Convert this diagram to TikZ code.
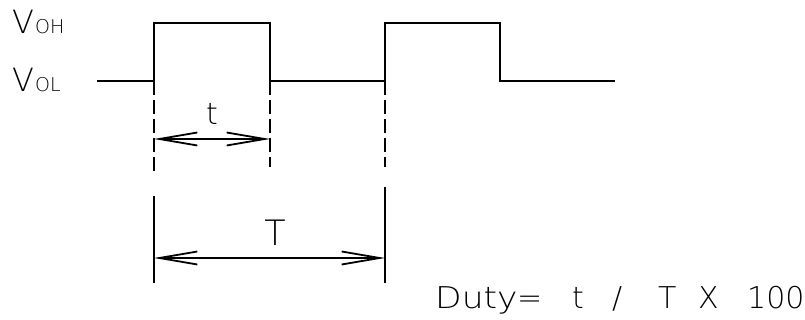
\documentclass[tikz,border=0pt]{standalone}
\usepackage{fontspec}
\setmainfont{DejaVu Sans ExtraLight}
\newfontfamily\widefont[FakeStretch=1.15]{DejaVu Sans ExtraLight}
\usetikzlibrary{arrows.meta}
\tikzset{
  wave/.style={line width=2.6pt, line join=miter},
  dashline/.style={line width=1.8pt, dash pattern=on 14pt off 5pt},
  extline/.style={line width=1.8pt},
  dimarrow/.style={line width=1.8pt, {Straight Barb[length=38pt,width=13pt]}-{Straight Barb[length=38pt,width=13pt]}},
  lbl/.style={inner sep=0pt, font=\fontsize{30}{30}\selectfont},
}
\newcommand{\subsz}{\fontsize{19}{19}\selectfont}
\begin{document}
\begin{tikzpicture}[x=1pt,y=-1pt]
\useasboundingbox (0,0) rectangle (805,320);
% waveform corners
\coordinate (s0) at (97,81);
\coordinate (r1b) at (154,81);
\coordinate (r1t) at (154,23);
\coordinate (f1t) at (270,23);
\coordinate (f1b) at (270,81);
\coordinate (r2b) at (385,81);
\coordinate (r2t) at (385,23);
\coordinate (f2t) at (500,23);
\coordinate (f2b) at (500,81);
\coordinate (e0) at (615,81);
\draw[wave] (s0) -- (r1b) -- (r1t) -- (f1t) -- (f1b) -- (r2b) -- (r2t) -- (f2t) -- (f2b) -- (e0);
% projection lines
\coordinate (d1) at (154,175);
\coordinate (d2) at (270,167);
\coordinate (d3) at (385,167);
\draw[dashline] (r1b) -- (d1);
\draw[dashline] (f1b) -- (d2);
\draw[dashline] (r2b) -- (d3);
\coordinate (x1a) at (154,196);
\coordinate (x1b) at (154,283);
\coordinate (x3a) at (385,187);
\coordinate (x3b) at (385,283);
\draw[extline] (x1a) -- (x1b);
\draw[extline] (x3a) -- (x3b);
% dimension arrows
\coordinate (ta) at (154,139);
\coordinate (tb) at (270,139);
\draw[dimarrow] (ta) -- (tb);
\coordinate (Ta) at (154,258);
\coordinate (Tb) at (385,258);
\draw[dimarrow] (Ta) -- (Tb);
% labels
\node[lbl, anchor=base west, font=\fontsize{32}{32}\selectfont] (voh) at (12,34) {V\hspace{1pt}{\subsz OH}};
\node[lbl, anchor=base west, font=\fontsize{32}{32}\selectfont] (vol) at (12,92) {V\hspace{1pt}{\subsz OL}};
\node[lbl, anchor=base] (tl) at (212,125) {t};
\node[lbl, anchor=base, font=\fontsize{35}{35}\selectfont] (Tl) at (275,245) {T};
\node[lbl, anchor=base west] (duty) at (435,308) {\rlap{\widefont Duty}\hspace{82pt}\rlap{=}\hspace{55pt}\rlap{t}\hspace{40pt}\rlap{/}\hspace{46pt}\rlap{T}\hspace{40pt}\rlap{X}\hspace{49pt}100};
\end{tikzpicture}
\end{document}
